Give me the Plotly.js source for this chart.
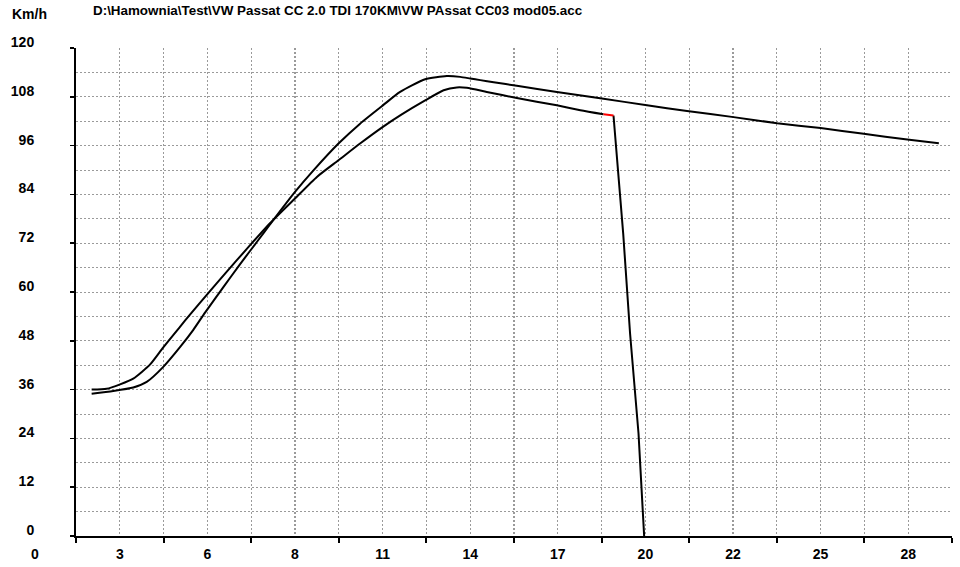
<!DOCTYPE html>
<html>
<head>
<meta charset="utf-8">
<script src="https://cdn.plot.ly/plotly-3.0.1.min.js"></script>
<style>
  html, body { margin: 0; padding: 0; background: #fff; }
  #graph { width: 960px; height: 567px; }
</style>
</head>
<body>
<div id="graph"></div>
<script>
/* ---------------- data ---------------- */

// run 1 - lower peak
var runAx = [1.90, 2.38, 2.81, 3.23, 3.77, 4.19, 4.73, 5.05, 5.58, 6.22, 6.86, 7.60, 8.40, 9.10,
    9.79, 10.48, 11.21, 11.80, 12.56, 13.15, 13.57, 13.89, 14.53, 15.49, 16.77, 17.52, 18.26];
var runAy = [36.0, 36.2, 37.3, 38.7, 42.2, 46.4, 51.5, 54.5, 59.3, 65.0, 70.6, 76.9, 83.0, 88.3,
    92.4, 96.5, 100.6, 103.6, 107.1, 109.6, 110.3, 110.2, 109.2, 107.7, 105.9, 104.7, 103.7];

// red marker piece at the end of run 1
var markX = [18.26, 18.58];
var markY = [103.7, 103.4];

// run 1 - drop to 0 after the marker
var dropX = [18.58, 18.89, 19.11, 19.38, 19.56];
var dropY = [103.4, 74.4, 49.8, 25.2, 0];

// run 2 - higher peak, long tail
var runBx = [1.90, 2.59, 3.23, 3.66, 4.19, 4.73, 5.15, 5.53, 6.11, 6.64, 7.18, 7.60, 8.40, 8.99,
    9.79, 10.48, 11.21, 11.76, 12.56, 13.25, 13.68, 14.00, 14.32, 14.75, 15.49, 16.77, 18.21,
    19.65, 20.93, 22.42, 23.81, 25.20, 26.58, 27.97, 28.98];
var runBy = [35.0, 35.65, 36.5, 37.9, 41.6, 46.5, 50.7, 55.0, 61.2, 66.8, 72.3, 76.6, 84.6, 89.9,
    96.5, 101.4, 105.9, 109.2, 112.3, 113.1, 112.9, 112.5, 112.1, 111.6, 110.7, 109.2, 107.6,
    105.9, 104.5, 103.0, 101.5, 100.3, 98.9, 97.5, 96.6];

var xRange = [1.4, 29.4];
var xLabelStep = 2.8;   // labels 3, 6, 8, 11 ... are 2.8 rounded
var xMarkStart = 1.4;   // tick marks sit between the labels
var yRange = [0, 120];
var yLabelStep = 12;
var yGridStep = 6;

var fileName = 'D:\\Hamownia\\Test\\VW Passat CC 2.0 TDI 170KM\\VW PAssat CC03 mod05.acc';

/* ---------------- plot ---------------- */

var font = 'Liberation Sans, Arial, sans-serif';
var gridDash = '2px,2px';
var gridColor = '#9a9a9a';

function lineTrace(x, y, color, shape, xaxis) {
    return {
        x: x,
        y: y,
        xaxis: xaxis || 'x',
        mode: 'lines',
        line: {color: color, width: 2, shape: shape, smoothing: 0.6}
    };
}

var data = [
    lineTrace(runAx, runAy, '#000', 'spline'),
    lineTrace(dropX, dropY, '#000', 'linear'),
    lineTrace(runBx, runBy, '#000', 'spline'),
    lineTrace(markX, markY, '#ff0000', 'linear', 'x2')
];

var tickFont = {family: font, size: 14, color: '#000', weight: 700};

var layout = {
    width: 960,
    height: 567,
    showlegend: false,
    paper_bgcolor: '#fff',
    plot_bgcolor: '#fff',
    margin: {l: 76, r: 8, t: 48, b: 31},
    font: tickFont,
    title: {
        text: fileName,
        font: {family: font, size: 13.4, color: '#000', weight: 700},
        xref: 'container',
        yref: 'container',
        x: 93 / 960,
        xanchor: 'left',
        y: 1 - 10 / 567,
        yanchor: 'middle',
        pad: {t: 0, b: 0, l: 0, r: 0}
    },
    // grid lines and tick marks between the labels
    xaxis: {
        range: xRange,
        autorange: false,
        tickmode: 'linear',
        tick0: xMarkStart,
        dtick: xLabelStep,
        ticks: 'outside',
        ticklen: 5,
        tickwidth: 2,
        tickcolor: '#000',
        showticklabels: false,
        showgrid: true,
        gridcolor: gridColor,
        griddash: gridDash,
        gridwidth: 1.2,
        zeroline: false,
        showline: true,
        linecolor: '#000',
        linewidth: 2
    },
    // labelled grid lines
    xaxis2: {
        range: xRange,
        autorange: false,
        overlaying: 'x',
        anchor: 'y',
        side: 'bottom',
        tickmode: 'linear',
        tick0: 0,
        dtick: xLabelStep,
        tickformat: '.0f',
        ticks: '',
        ticklabelstandoff: 8,
        showgrid: true,
        gridcolor: gridColor,
        griddash: gridDash,
        gridwidth: 1.2,
        zeroline: false,
        showline: false,
        tickfont: tickFont
    },
    yaxis: {
        range: yRange,
        autorange: false,
        tickmode: 'linear',
        tick0: 0,
        dtick: yLabelStep,
        ticks: 'outside',
        ticklen: 4,
        tickwidth: 1.5,
        tickcolor: '#000',
        ticklabelstandoff: 33,
        ticklabelshift: -6,
        showgrid: true,
        gridcolor: gridColor,
        griddash: gridDash,
        gridwidth: 1,
        zeroline: false,
        showline: true,
        linecolor: '#000',
        linewidth: 2,
        tickfont: tickFont,
        minor: {
            tick0: 0,
            dtick: yGridStep,
            ticks: '',
            showgrid: true,
            gridcolor: gridColor,
            griddash: gridDash,
            gridwidth: 1
        }
    },
    annotations: [
        {
            // unit label above the y axis
            text: 'Km/h',
            xref: 'paper',
            yref: 'paper',
            x: (10 - 76) / 876,
            xanchor: 'left',
            y: (535.7 - 14) / 488,
            yanchor: 'middle',
            showarrow: false,
            font: tickFont
        },
        {
            // the "0" of the x scale sits left of the plotted range
            text: '0',
            xref: 'paper',
            yref: 'paper',
            x: (0 - xRange[0]) / (xRange[1] - xRange[0]) + 3 / 876,
            xanchor: 'center',
            y: -18 / 488,
            yanchor: 'middle',
            showarrow: false,
            font: tickFont
        }
    ]
};

var graph = document.getElementById('graph');
Plotly.newPlot(graph, data, layout, {staticPlot: true});
</script>
</body>
</html>
